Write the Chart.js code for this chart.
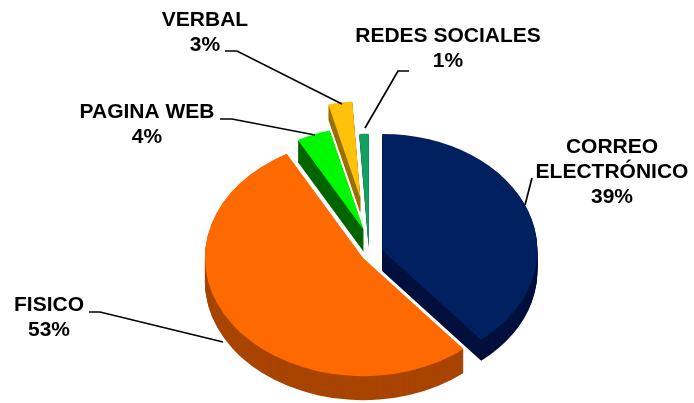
<!DOCTYPE html>
<html>
<head>
<meta charset="utf-8">
<script src="https://cdn.jsdelivr.net/npm/chart.js@4"></script>
<style>
  html, body { margin: 0; padding: 0; background: #fff; }
  canvas { display: block; }
</style>
</head>
<body>
<canvas id="chart1" width="694" height="403"></canvas>
<script>
const categories = ['CORREO ELECTRÓNICO', 'FISICO', 'PAGINA WEB', 'VERBAL', 'REDES SOCIALES'];
const values = [39, 53, 4, 3, 1];
const colors = ['#012060', '#ff6a00', '#00f800', '#ffc20a', '#12a060'];
const sideColors = ['#000f3c', '#a84400', '#006400', '#9a7000', '#0a6038'];

// look of each slice: how far it is pulled out, its radius and the height of its side
const explode = [11, 11, 33, 74, 9];
const nudgeX = [0, 0, 4, 0, -3];
const radius = [155, 158, 137, 129, 150];
const depth = [21, 24, 22, 15, 2];

// text lines and anchor of each label, x is the centre of the line
const labelLines = [
  ['CORREO', 'ELECTRÓNICO', '39%'],
  ['FISICO', '53%'],
  ['PAGINA WEB', '4%'],
  ['VERBAL', '3%'],
  ['REDES SOCIALES', '1%'],
];
const labelX = [612, 49, 147, 205, 448];
const labelY = [147, 305, 112, 20, 36];
const leaders = [
  [[532, 178], [525, 205]],
  [[89, 312], [100, 312], [223, 342]],
  [[220, 119], [232, 119], [315, 135]],
  [[225, 51], [237, 51], [342, 104]],
  [[409, 71], [398, 71], [365, 128]],
];

const tilt = 0.75;
const drawOrder = [1, 2, 3, 4, 0];

const pie3d = {
  id: 'pie3d',
  beforeDatasetsDraw(chart) {
    const ctx = chart.ctx;
    const arcs = chart.getDatasetMeta(0).data;
    const cx = arcs[0].x;
    const cy = arcs[0].y;
    ctx.save();
    ctx.translate(cx, cy);
    ctx.scale(1, tilt);
    ctx.translate(-cx, -cy);
    drawOrder.forEach((i) => {
      const arc = arcs[i];
      const mid = (arc.startAngle + arc.endAngle) / 2;
      const dx = Math.cos(mid) * explode[i] + nudgeX[i];
      const dy = Math.sin(mid) * explode[i];
      const top = Object.create(arc, { outerRadius: { value: radius[i] } });
      const side = Object.create(arc, {
        outerRadius: { value: radius[i] },
        options: { value: { ...arc.options, backgroundColor: sideColors[i] } },
      });
      for (let d = depth[i]; d > 0; d--) {
        ctx.save();
        ctx.translate(dx, dy + d / tilt);
        side.draw(ctx);
        ctx.restore();
      }
      ctx.save();
      ctx.translate(dx, dy);
      top.draw(ctx);
      ctx.restore();
    });
    ctx.restore();
    return false;
  },
  afterDraw(chart) {
    const ctx = chart.ctx;
    ctx.save();
    ctx.strokeStyle = '#000';
    ctx.lineWidth = 1.7;
    leaders.forEach((pts) => {
      ctx.beginPath();
      pts.forEach((p, i) => (i ? ctx.lineTo(p[0], p[1]) : ctx.moveTo(p[0], p[1])));
      ctx.stroke();
    });
    ctx.fillStyle = '#000';
    ctx.font = 'bold 21px "Liberation Sans"';
    ctx.textAlign = 'center';
    ctx.textBaseline = 'middle';
    labelLines.forEach((lines, i) => {
      lines.forEach((t, j) => ctx.fillText(t, labelX[i], labelY[i] + j * 25));
    });
    ctx.restore();
  },
};

const config = {
  type: 'pie',
  data: {
    labels: categories,
    datasets: [{
      data: values,
      backgroundColor: colors,
      borderWidth: 0,
      radius: 160,
    }],
  },
  options: {
    responsive: false,
    animation: false,
    layout: { padding: { left: 50, top: 103 } },
    plugins: { legend: { display: false }, tooltip: { enabled: false } },
  },
  plugins: [pie3d],
};

var myChart = new Chart(document.getElementById('chart1'), config);
</script>
</body>
</html>
